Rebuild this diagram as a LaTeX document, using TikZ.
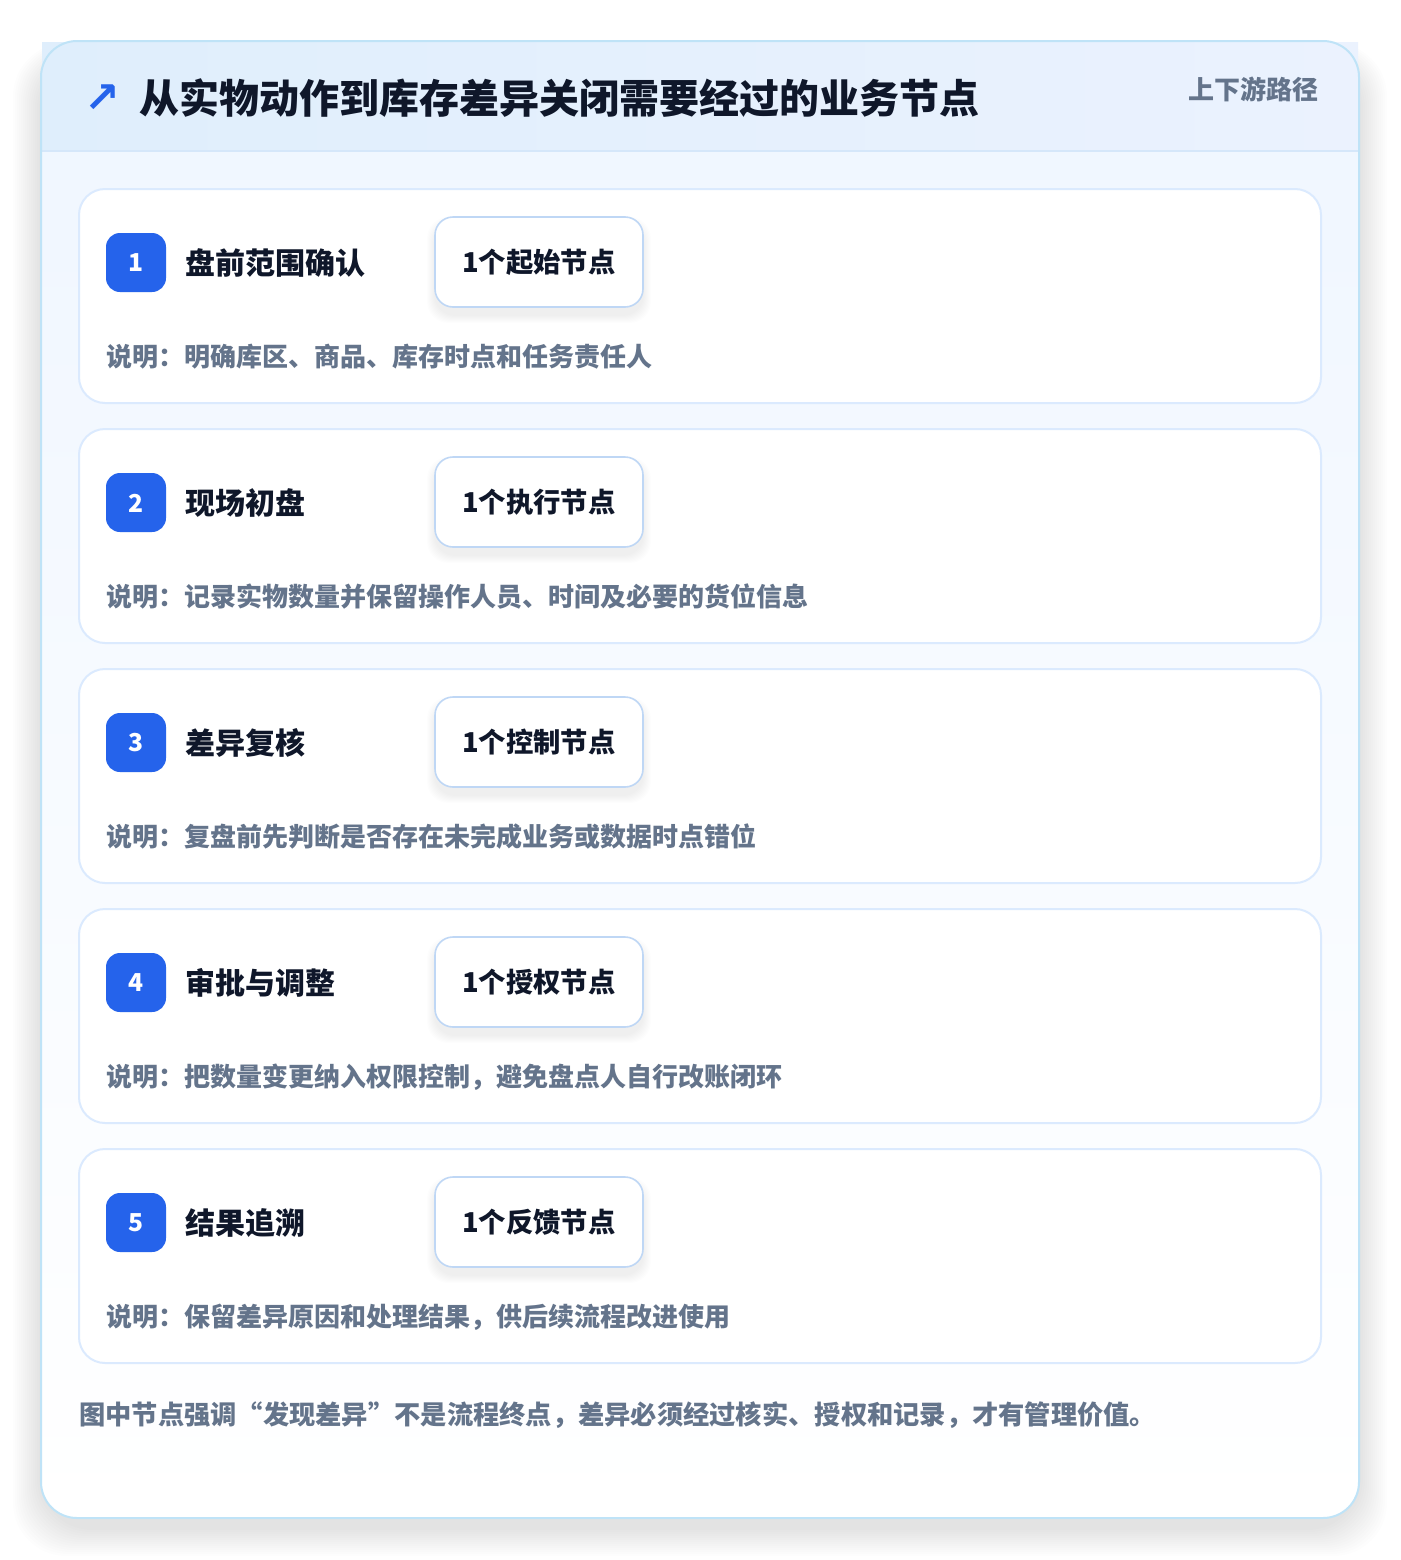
\documentclass[tikz,border=0pt]{standalone}
\usepackage{fontspec}
\setmainfont{Noto Sans CJK SC}
\newfontfamily\symfont{DejaVu Sans}
\definecolor{pagebg}{HTML}{FFFFFF}
\definecolor{outerborder}{HTML}{BFE3F7}
\definecolor{headl}{HTML}{DFEEFC}
\definecolor{headr}{HTML}{EBF2FE}
\definecolor{headline}{HTML}{D5E7FA}
\definecolor{bodytop}{HTML}{EFF6FF}
\definecolor{bodybot}{HTML}{FFFFFF}
\definecolor{cardborder}{HTML}{DBEAFE}
\definecolor{tagborder}{HTML}{BFD7F5}
\definecolor{badge}{HTML}{2563EB}
\definecolor{ink}{HTML}{0F172A}
\definecolor{muted}{HTML}{64748B}
\tikzset{
  cardbox/.style={fill=white, draw=cardborder, line width=1.5pt, rounded corners=19.5pt},
  badgebox/.style={fill=badge, rounded corners=10.5pt},
  numtext/.style={text=white, font=\fontsize{18.5pt}{22pt}\selectfont\bfseries},
  titletext/.style={anchor=west, text=ink, inner sep=0pt, font=\fontsize{22.5pt}{26pt}\selectfont\bfseries},
  tagbox/.style={fill=white, draw=tagborder, line width=1.2pt, rounded corners=13.5pt, minimum width=156pt, minimum height=67.5pt, inner sep=0pt, text=ink, font=\fontsize{20.5pt}{24pt}\selectfont\bfseries},
  desctext/.style={anchor=west, text=muted, inner sep=0pt, font=\fontsize{19.5pt}{23pt}\selectfont\bfseries},
}
\begin{document}
\begin{tikzpicture}[x=0.75pt,y=-0.75pt]
\useasboundingbox (0,0) rectangle (1400,1560);
\fill[pagebg] (0,0) rectangle (1400,1560);
% outer shadow
\foreach \k in {1,...,14}{
  \fill[black, opacity=0.006, rounded corners=40pt] (41-2*\k,41-1*\k+16) rectangle (1359+2*\k,1518+2*\k+10);
}
% outer card
\fill[bottom color=bodybot, top color=bodytop, rounded corners=27pt] (41,41) rectangle (1359,1518);
\fill[left color=headl, right color=headr] (42,42) rectangle (1358,151);
\draw[headline, line width=1.2pt] (42,151) -- (1358,151);
\draw[outerborder, line width=1.5pt, rounded corners=27pt] (41,41) rectangle (1359,1518);
% header
\node[text=badge, inner sep=0pt, font=\symfont\fontsize{32pt}{34pt}\selectfont\bfseries] (icon) at (102,99) {↗};
\node[anchor=west, text=ink, inner sep=0pt, font=\fontsize{30pt}{36pt}\selectfont\bfseries] (title) at (139,98) {从实物动作到库存差异关闭需要经过的业务节点};
\node[anchor=east, text=muted, inner sep=0pt, font=\fontsize{19.5pt}{23pt}\selectfont\bfseries] (route) at (1319,89) {上下游路径};
% cards
\foreach \i/\t/\g/\d in {
  1/盘前范围确认/1个起始节点/说明：明确库区、商品、库存时点和任务责任人,
  2/现场初盘/1个执行节点/说明：记录实物数量并保留操作人员、时间及必要的货位信息,
  3/差异复核/1个控制节点/说明：复盘前先判断是否存在未完成业务或数据时点错位,
  4/审批与调整/1个授权节点/说明：把数量变更纳入权限控制，避免盘点人自行改账闭环,
  5/结果追溯/1个反馈节点/说明：保留差异原因和处理结果，供后续流程改进使用}{
  \pgfmathsetmacro{\yy}{189+240*(\i-1)}
  \path[cardbox] (79,\yy) rectangle (1321,\yy+214);
  \path[badgebox] (106,\yy+44) rectangle (166,\yy+103);
  \node[numtext] (num\i) at (136,\yy+74) {\i};
  \node[titletext] (ttl\i) at (185,\yy+74) {\t};
  \foreach \s in {1,...,8}{
    \fill[black, opacity=0.006, rounded corners=16pt] (435-\s,\yy+28-\s+8) rectangle (643+\s,\yy+118+\s+8);
  }
  \node[tagbox] (tag\i) at (539,\yy+73) {\g};
  \node[desctext] (desc\i) at (106,\yy+168) {\d};
}
\node[anchor=west, text=muted, inner sep=0pt, font=\fontsize{19.7pt}{23pt}\selectfont\bfseries] (foot) at (79,1415) {图中节点强调“发现差异”不是流程终点，差异必须经过核实、授权和记录，才有管理价值。};
\end{tikzpicture}
\end{document}
